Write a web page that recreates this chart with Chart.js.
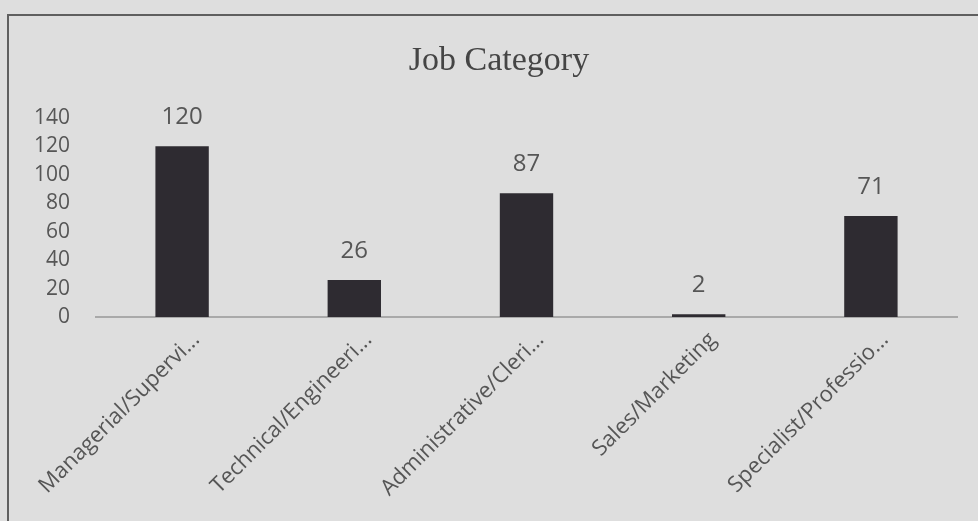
<!DOCTYPE html>
<html>
<head>
<meta charset="utf-8">
<script src="https://cdn.jsdelivr.net/npm/chart.js@4"></script>
<style>
  html, body { margin: 0; padding: 0; background: #dedede; }
  #wrap { position: relative; width: 978px; height: 521px; overflow: hidden; }
  #frame { position: absolute; left: 7px; top: 14px; width: 990px; height: 540px;
           border-top: 2px solid #5f5f5f; border-left: 2px solid #5f5f5f; pointer-events: none; }
  canvas { position: absolute; left: 0; top: 0; }
</style>
</head>
<body>
<div id="wrap">
  <canvas id="c" width="978" height="521"></canvas>
  <div id="frame"></div>
</div>
<script>
const categories = ["Managerial/Supervi...", "Technical/Engineeri...", "Administrative/Cleri...", "Sales/Marketing", "Specialist/Professio..."];
const counts = [120, 26, 87, 2, 71];
const yTicks = [0, 20, 40, 60, 80, 100, 120, 140];
const chartTitle = "Job Category";

const textColor = "#565656";

const valueLabels = {
  id: "valueLabels",
  afterDatasetsDraw(chart) {
    const ctx = chart.ctx;
    const meta = chart.getDatasetMeta(0);
    ctx.save();
    ctx.font = "24px 'Open Sans'";
    ctx.fillStyle = textColor;
    ctx.textAlign = "center";
    ctx.textBaseline = "middle";
    meta.data.forEach((el, i) => {
      ctx.fillText(String(chart.data.datasets[0].data[i]), el.x, el.y - 29);
    });
    ctx.restore();
  }
};

new Chart(document.getElementById("c"), {
  type: "bar",
  data: {
    labels: categories,
    datasets: [{
      data: counts,
      backgroundColor: "#2e2b31",
      borderWidth: 0,
      categoryPercentage: 1.0,
      barPercentage: 0.31
    }]
  },
  options: {
    responsive: false,
    animation: false,
    layout: { padding: { left: 20, right: 0, top: 41, bottom: 0 } },
    plugins: {
      legend: { display: false },
      tooltip: { enabled: false },
      title: {
        display: true,
        text: chartTitle,
        color: "#454545",
        font: { family: "'Liberation Serif'", size: 34, weight: "normal" },
        padding: { top: 0, bottom: 36 }
      }
    },
    scales: {
      x: {
        grid: { display: false, drawTicks: false },
        border: { display: true, color: "#a9a9a9", width: 2 },
        ticks: {
          color: textColor,
          font: { family: "'Open Sans'", size: 22 },
          maxRotation: 45,
          minRotation: 45,
          autoSkip: false,
          padding: 10,
          labelOffset: 14
        },
        afterFit(scale) { scale.height = 204; }
      },
      y: {
        min: 0,
        max: 140,
        grid: { display: false, drawTicks: false },
        border: { display: false },
        afterBuildTicks(scale) { scale.ticks = yTicks.map(v => ({ value: v })); },
        ticks: {
          color: textColor,
          font: { family: "'Open Sans'", size: 21 },
          padding: 26,
          autoSkip: false
        },
        afterFit(scale) { scale.width = 76; }
      },
      gutter: {
        type: "linear",
        position: "right",
        grid: { display: false, drawTicks: false },
        border: { display: false },
        ticks: { display: false },
        afterFit(scale) { scale.width = 21; }
      }
    }
  },
  plugins: [valueLabels]
});
</script>
</body>
</html>
